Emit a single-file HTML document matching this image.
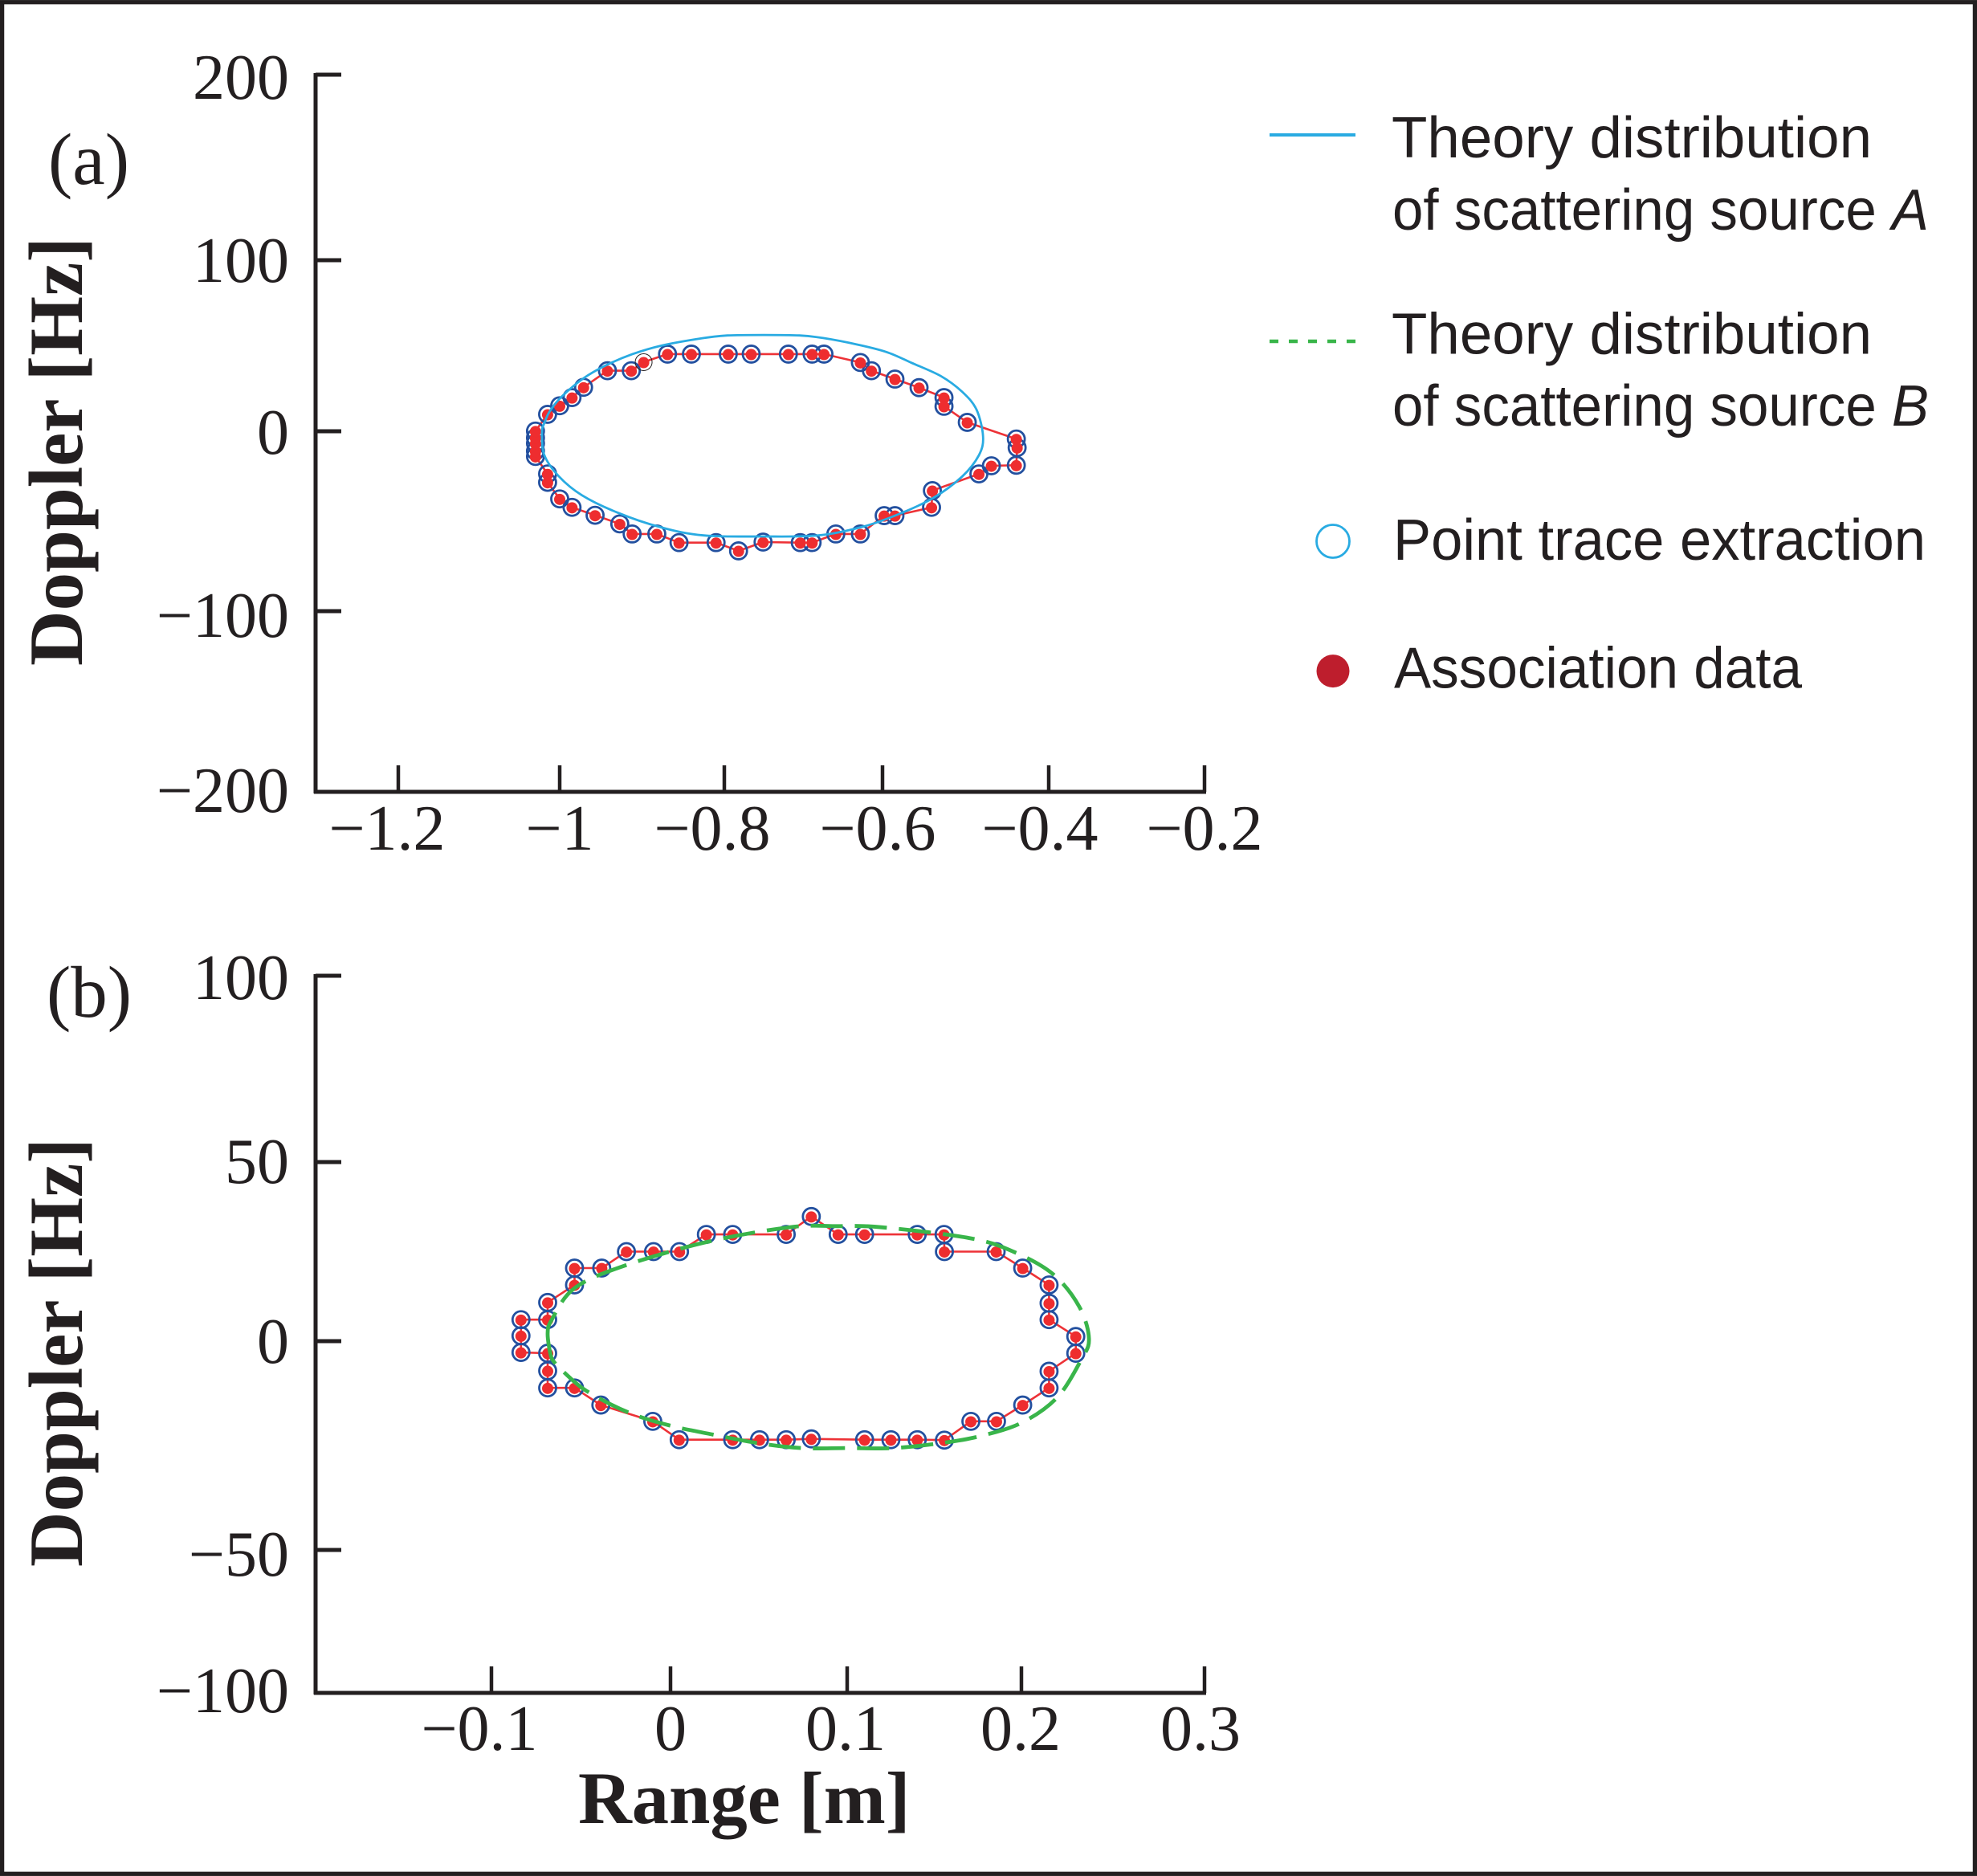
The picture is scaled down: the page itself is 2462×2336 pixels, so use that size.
<!DOCTYPE html>
<html lang="en">
<head>
<meta charset="utf-8">
<title>Doppler versus range: theory and extracted scattering traces</title>
<style>
  html, body { margin: 0; padding: 0; background: #fff; }
  svg { display: block; }
  text { fill: #231f20; font-family: "Liberation Serif", serif; }
  .leg { font-family: "Liberation Sans", sans-serif; font-size: 72.5px; }
  .tick { font-size: 80px; }
  .title { font-weight: bold; }
</style>
</head>
<body>
<svg id="chart" xmlns="http://www.w3.org/2000/svg" width="2462" height="2336" viewBox="0 0 2462 2336">
  <rect x="0" y="0" width="2462" height="2336" fill="#fff"/>
  <rect x="2.6" y="2.7" width="2456.8" height="2330.6" fill="none" stroke="#231f20" stroke-width="5.3"/>

  <g id="panel-a"></g>
  <g id="panel-b"></g>

  <text x="60" y="229" font-size="91">(a)</text>
  <text x="58" y="1266" font-size="91">(b)</text>
  <text class="title" transform="translate(102 829) rotate(-90)" font-size="95">Doppler [Hz]</text>
  <text class="title" transform="translate(102 1951) rotate(-90)" font-size="95">Doppler [Hz]</text>
  <text class="title" x="720" y="2270" font-size="92.5">Range [m]</text>

  <g>
    <line x1="1581" x2="1688" y1="168" y2="168" stroke="#29abe2" stroke-width="4"/>
    <text class="leg" x="1733" y="196" textLength="598" lengthAdjust="spacingAndGlyphs">Theory distribution</text>
    <text class="leg" x="1734" y="286" textLength="668" lengthAdjust="spacingAndGlyphs">of scattering source <tspan font-style="italic">A</tspan></text>
    <line x1="1581" x2="1688" y1="425" y2="425" stroke="#39b54a" stroke-width="4.4" stroke-dasharray="11 13"/>
    <text class="leg" x="1733" y="440.5" textLength="598" lengthAdjust="spacingAndGlyphs">Theory distribution</text>
    <text class="leg" x="1734" y="530" textLength="668" lengthAdjust="spacingAndGlyphs">of scattering source <tspan font-style="italic">B</tspan></text>
    <circle cx="1660" cy="674" r="20.5" fill="#fff" stroke="#29abe2" stroke-width="2.8"/>
    <text class="leg" x="1735" y="697" textLength="663" lengthAdjust="spacingAndGlyphs">Point trace extraction</text>
    <circle cx="1660" cy="835.6" r="20.5" fill="#be1e2d"/>
    <text class="leg" x="1736" y="856.5" textLength="508" lengthAdjust="spacingAndGlyphs">Association data</text>
  </g>
</svg>

<script>
// ---- Panel (a) data ----
const xTicksA = [-1.2, -1, -0.8, -0.6, -0.4, -0.2];
const xTickLabelsA = ['−1.2', '−1', '−0.8', '−0.6', '−0.4', '−0.2'];
const yTicksA = [200, 100, 0, -100, -200];
const yTickLabelsA = ['200', '100', '0', '−100', '−200'];
const rangeA = [
  -1.030, -1.030, -1.030, -1.030, -1.030, -1.015, -1.000, -0.985, -0.971, -0.942,
  -0.913, -0.898, -0.869, -0.840, -0.795, -0.766, -0.719, -0.689, -0.674, -0.628,
  -0.614, -0.585, -0.556, -0.526, -0.526, -0.498, -0.439, -0.438, -0.439, -0.469,
  -0.484, -0.540, -0.541, -0.585, -0.598, -0.628, -0.659, -0.689, -0.704, -0.751,
  -0.782, -0.810, -0.855, -0.882, -0.912, -0.927, -0.957, -0.985, -1.000, -1.015,
  -1.015
];
const dopplerA = [
  -14.0, -11.0, -6.7, -3.6, 0.1, 9.9, 14.9, 19.7, 25.7, 35.4,
  35.4, 40.4, 45.1, 45.1, 45.1, 45.1, 45.1, 45.1, 45.1, 40.2,
  35.4, 30.5, 25.5, 19.7, 14.6, 5.2, -4.3, -9.1, -18.9, -19.2,
  -23.7, -33.0, -42.3, -46.9, -46.9, -57.1, -57.1, -61.9, -61.9, -61.6,
  -66.5, -61.9, -61.9, -57.1, -57.1, -51.5, -46.7, -42.3, -37.6, -28.4,
  -23.7
];
const theoryARange = [
  -1.022, -1.019, -1.012, -0.997, -0.971, -0.944, -0.912, -0.877, -0.825, -0.796,
  -0.750, -0.705, -0.675, -0.631, -0.595, -0.565, -0.530, -0.504, -0.487, -0.479,
  -0.484, -0.504, -0.539, -0.580, -0.625, -0.681, -0.752, -0.825, -0.877, -0.930,
  -0.973, -1.001, -1.019
];
const theoryADoppler = [
  -0.7, 4.8, 11.9, 20.5, 31.0, 38.5, 45.0, 50.0, 54.5, 56.0,
  56.3, 56.0, 54.5, 50.6, 46.3, 40.0, 32.3, 23.0, 12.7, -2.8,
  -13.3, -25.1, -37.1, -46.0, -53.1, -57.9, -58.5, -57.9, -53.4, -45.2,
  -35.6, -25.1, -13.3
];

// ---- Panel (b) data ----
const xTicksB = [-0.1, 0, 0.1, 0.2, 0.3];
const xTickLabelsB = ['−0.1', '0', '0.1', '0.2', '0.3'];
const yTicksB = [100, 50, 0, -50, -100];
const yTickLabelsB = ['100', '50', '0', '−50', '−100'];
const rangeB = [
  -0.0835, -0.0835, -0.0835, -0.0686, -0.0686, -0.0536, -0.0536, -0.0384, -0.0246, -0.0095,
  0.0051, 0.0203, 0.0352, 0.0655, 0.0797, 0.0949, 0.1100, 0.1402, 0.1556, 0.1558,
  0.1855, 0.2007, 0.2151, 0.2151, 0.2151, 0.2297, 0.2297, 0.2151, 0.2151, 0.2007,
  0.1857, 0.1710, 0.1558, 0.1402, 0.1251, 0.1100, 0.0797, 0.0655, 0.0504, 0.0352,
  0.0049, -0.0099, -0.0389, -0.0536, -0.0686, -0.0686, -0.0686
];
const dopplerB = [
  -2.7, 1.5, 6.0, 6.0, 10.8, 15.7, 20.4, 20.4, 25.0, 25.0,
  25.0, 29.8, 29.8, 29.8, 34.8, 29.8, 29.8, 29.8, 29.8, 25.0,
  25.0, 20.4, 15.7, 10.6, 6.0, 1.3, -2.9, -7.2, -11.2, -15.3,
  -19.2, -19.2, -23.7, -23.6, -23.6, -23.6, -23.4, -23.6, -23.6, -23.6,
  -23.6, -19.2, -15.3, -11.2, -11.2, -7.1, -2.9
];
const theoryBRange = [
  -0.0686, -0.0670, -0.0648, -0.0596, -0.0470, -0.0239, -0.0005, 0.0244, 0.0492, 0.0741,
  0.1001, 0.1265, 0.1540, 0.1757, 0.1998, 0.2195, 0.2326, 0.2369, 0.2315, 0.2173,
  0.1953, 0.1700, 0.1196, 0.0945, 0.0673, 0.0198, -0.0284, -0.0541, -0.0663
];
const theoryBDoppler = [
  2.2, -3.2, -5.1, -7.4, -11.9, -17.0, -20.2, -22.4, -24.4, -25.6,
  -25.6, -25.6, -24.4, -22.8, -19.6, -13.5, -4.5, 0.7, 9.7, 18.7,
  25.0, 28.8, 31.8, 32.1, 31.8, 27.6, 20.6, 14.6, 6.0
];

// ---- Helpers ----
const SVGNS = 'http://www.w3.org/2000/svg';

function svgEl(parent, tag, attrs) {
  const node = document.createElementNS(SVGNS, tag);
  Object.keys(attrs).forEach(function (k) { node.setAttribute(k, attrs[k]); });
  parent.appendChild(node);
  return node;
}

// Piecewise-linear axis: the printed ticks in the source are not evenly spaced.
function axisScale(domain, pixels) {
  const order = domain.map(function (d, i) { return [d, pixels[i]]; })
    .sort(function (a, b) { return a[0] - b[0]; });
  return function (v) {
    let i = 0;
    while (i < order.length - 2 && v > order[i + 1][0]) i++;
    const a = order[i], b = order[i + 1];
    return a[1] + (v - a[0]) / (b[0] - a[0]) * (b[1] - a[1]);
  };
}

function smoothClosedPath(pts) {
  const n = pts.length;
  let d = 'M' + pts[0][0].toFixed(1) + ' ' + pts[0][1].toFixed(1);
  for (let i = 0; i < n; i++) {
    const p0 = pts[(i - 1 + n) % n], p1 = pts[i], p2 = pts[(i + 1) % n], p3 = pts[(i + 2) % n];
    const c1x = p1[0] + (p2[0] - p0[0]) / 6, c1y = p1[1] + (p2[1] - p0[1]) / 6;
    const c2x = p2[0] - (p3[0] - p1[0]) / 6, c2y = p2[1] - (p3[1] - p1[1]) / 6;
    d += 'C' + c1x.toFixed(1) + ' ' + c1y.toFixed(1) + ' ' + c2x.toFixed(1) + ' ' + c2y.toFixed(1) + ' ' + p2[0].toFixed(1) + ' ' + p2[1].toFixed(1);
  }
  return d + 'Z';
}

function drawAxes(g, cfg) {
  const ink = '#231f20';
  const yAxis = svgEl(g, 'line', { x1: cfg.axisX, x2: cfg.axisX, y1: cfg.y(cfg.yTicks[0]) - 2, y2: cfg.axisY + 2, stroke: ink, 'stroke-width': 5 });
  
  
  const xAxis = svgEl(g, 'line', { x1: cfg.axisX - 2, x2: cfg.x(cfg.xTicks[cfg.xTicks.length - 1]) + 2, y1: cfg.axisY, y2: cfg.axisY, stroke: ink, 'stroke-width': 5 });
  
  

  cfg.yTicks.forEach(function (v, i) {
    const py = cfg.y(v);
    const tick = svgEl(g, 'line', { x1: cfg.axisX, x2: cfg.axisX + 32, y1: py, y2: py, stroke: ink, 'stroke-width': 5 });
    
    
    const label = svgEl(g, 'text', { x: 360, y: py + cfg.yLabelDrop[i], 'text-anchor': 'end', class: 'tick' });
    label.textContent = cfg.yLabels[i];
    
    
  });

  cfg.xTicks.forEach(function (v, i) {
    const px = cfg.x(v);
    const tick = svgEl(g, 'line', { x1: px, x2: px, y1: cfg.axisY - 33, y2: cfg.axisY, stroke: ink, 'stroke-width': 4.5 });
    
    
    const label = svgEl(g, 'text', { x: px + cfg.xLabelShift[i], y: cfg.axisY + cfg.xLabelDrop, 'text-anchor': 'middle', class: 'tick' });
    label.textContent = cfg.xLabels[i];
    
    
  });
}

function drawTrace(g, id, x, y, xs, ys, thinIndex) {
  const pts = xs.map(function (v, i) { return [x(v), y(ys[i])]; });
  const line = svgEl(g, 'polygon', {
    points: pts.map(function (p) { return p[0].toFixed(1) + ',' + p[1].toFixed(1); }).join(' '),
    fill: 'none', stroke: '#ed3237', 'stroke-width': 2.6, 'stroke-linejoin': 'round'
  });
  
  

  pts.forEach(function (p, i) {
    const thin = i === thinIndex;
    const ring = svgEl(g, 'circle', { cx: p[0], cy: p[1], r: 10.5, fill: 'none', stroke: thin ? '#231f20' : '#23509f', 'stroke-width': thin ? 1 : 2.8 });
    
    
  });
  pts.forEach(function (p) {
    const dot = svgEl(g, 'circle', { cx: p[0], cy: p[1] + 0.6, r: 7, fill: '#ee2d2f' });
    
    
  });
}

// ---- Panel (a) ----
(function () {
  const g = document.getElementById('panel-a');
  const x = axisScale(xTicksA, [496, 697, 902, 1099, 1306, 1500]);
  const y = axisScale(yTicksA, [93, 324, 537, 761, 986]);
  drawAxes(g, {
    id: 'panel-a', axisX: 393, axisY: 986, x: x, y: y,
    xTicks: xTicksA, xLabels: xTickLabelsA, yTicks: yTicksA, yLabels: yTickLabelsA,
    yLabelDrop: [30, 27, 28, 32, 25], xLabelShift: [-14, 0, -15, -6, -11, 0], xLabelDrop: 72
  });
  drawTrace(g, 'panel-a', x, y, rangeA, dopplerA, 11);
  const pts = theoryARange.map(function (v, i) { return [x(v), y(theoryADoppler[i])]; });
  const curve = svgEl(g, 'path', { d: smoothClosedPath(pts), fill: 'none', stroke: '#29abe2', 'stroke-width': 2.8 });
  
  
})();

// ---- Panel (b) ----
(function () {
  const g = document.getElementById('panel-b');
  const x = axisScale(xTicksB, [612, 835, 1055, 1272, 1500]);
  const y = axisScale(yTicksB, [1215, 1447, 1670, 1930, 2108]);
  drawAxes(g, {
    id: 'panel-b', axisX: 393, axisY: 2108, x: x, y: y,
    xTicks: xTicksB, xLabels: xTickLabelsB, yTicks: yTicksB, yLabels: yTickLabelsB,
    yLabelDrop: [29, 26, 27, 32, 24], xLabelShift: [-15, 0, -2, -1, -5], xLabelDrop: 71
  });
  drawTrace(g, 'panel-b', x, y, rangeB, dopplerB, -1);
  const pts = theoryBRange.map(function (v, i) { return [x(v), y(theoryBDoppler[i])]; });
  const curve = svgEl(g, 'path', { d: smoothClosedPath(pts), fill: 'none', stroke: '#39b54a', 'stroke-width': 4.8, 'stroke-dasharray': '40 15' });
  
  
})();
</script>
</body>
</html>
